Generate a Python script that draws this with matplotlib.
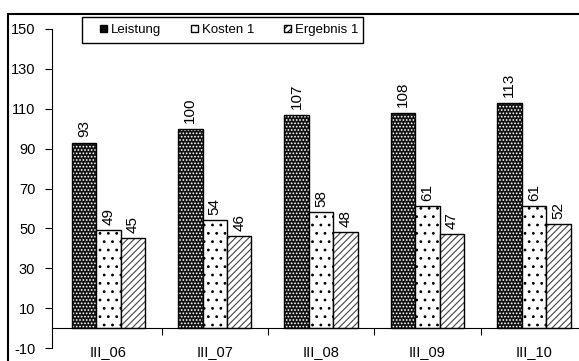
import numpy as np
import matplotlib.pyplot as plt
from matplotlib.patches import Rectangle, Patch

plt.rcParams['font.family'] = ['Liberation Sans', 'DejaVu Sans']
plt.rcParams['hatch.linewidth'] = 0.8
plt.rcParams['axes.unicode_minus'] = False

# quarterly figures
quarters = ['III_06', 'III_07', 'III_08', 'III_09', 'III_10']
leistung = [93, 100, 107, 108, 113]
kosten = [49, 54, 58, 61, 61]
ergebnis = [45, 46, 48, 47, 52]
series_names = ['Leistung', 'Kosten 1', 'Ergebnis 1']

fig = plt.figure(figsize=(5.79, 3.61), dpi=100)
ax = fig.add_axes([52 / 579, 13 / 361, 535 / 579, 319 / 361])

x = np.arange(len(quarters))
w = 0.23

# fill + hatch drawn first, black outline on top
styles = [
    dict(face='#111111', hatch='.....', hcolor='white'),
    dict(face='white', hatch='..', hcolor='black'),
    dict(face='white', hatch='/////', hcolor='#444444'),
]
for k, (vals, st) in enumerate(zip([leistung, kosten, ergebnis], styles)):
    pos = x + (k - 1) * w
    ax.bar(pos, vals, w, color=st['face'], hatch=st['hatch'],
           edgecolor=st['hcolor'], linewidth=0)
    bars = ax.bar(pos, vals, w, fill=False, edgecolor='black', linewidth=1.0)
    for b, v in zip(bars, vals):
        ax.annotate(str(v), (b.get_x() + b.get_width() / 2, v),
                    xytext=(0, 4), textcoords='offset points',
                    rotation=90, ha='center', va='bottom', fontsize=11)

ax.set_xlim(-0.53, 4.5)
ax.set_ylim(-10, 150)
ax.set_yticks(np.arange(-10, 151, 20))
ax.tick_params(axis='y', direction='out', length=5, pad=7, labelsize=10.5)

ax.spines['bottom'].set_position(('data', 0))
ax.spines['top'].set_visible(False)
ax.spines['right'].set_visible(False)
ax.set_xticks(x[:-1] + 0.5)
ax.set_xticklabels([])
ax.tick_params(axis='x', direction='out', length=5)
for xi, q in zip(x, quarters):
    ax.text(xi, -12, q, ha='center', va='center', fontsize=10.5)

handles = [Patch(facecolor=s['face'], edgecolor='black', hatch=s['hatch'])
           for s in styles]
leg = fig.legend(handles, series_names, ncol=3, loc='center left',
                 bbox_to_anchor=(100 / 579, 1 - 30 / 361), fontsize=9.5,
                 frameon=False, handlelength=0.5, handleheight=0.5,
                 handletextpad=0.3, columnspacing=2.3, borderpad=0,
                 borderaxespad=0)

# legend box
fig.patches.append(Rectangle((82 / 579, 1 - 43 / 361), 281 / 579, 26 / 361,
                             transform=fig.transFigure, fill=False,
                             edgecolor='black', linewidth=1.0))

# outer chart frame
fig.patches.append(Rectangle((8 / 579, -0.1), 1.2, 1 - 14 / 361 + 0.1,
                             transform=fig.transFigure, fill=False,
                             edgecolor='black', linewidth=1.5))

fig.savefig('out.png', dpi=100)
